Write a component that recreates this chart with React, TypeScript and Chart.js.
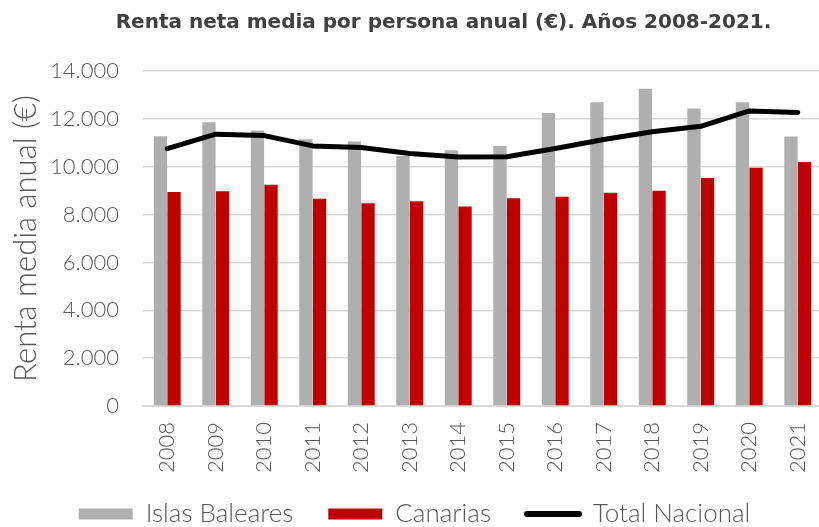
import React, { useEffect, useRef } from "react";
import { Chart, registerables } from "chart.js";

Chart.register(...registerables);

const years = ["2008","2009","2010","2011","2012","2013","2014","2015","2016","2017","2018","2019","2020","2021"];
const baleares = [11270, 11860, 11510, 11150, 11050, 10450, 10690, 10870, 12250, 12690, 13260, 12430, 12690, 11260];
const canarias = [8940, 8970, 9250, 8660, 8470, 8560, 8340, 8680, 8750, 8910, 9000, 9530, 9960, 10200];
const totalNacional = [10760, 11360, 11300, 10870, 10800, 10550, 10410, 10420, 10760, 11140, 11460, 11690, 12330, 12270];

const fmt = (v: number) => {
  const s = Math.round(v).toString();
  return s.replace(/\B(?=(\d{3})+(?!\d))/g, ".");
};

const adjustBoxes = {
  id: "adjustBoxes",
  afterLayout(chart: any) {
    const t = chart.titleBlock;
    if (t) {
      t.left += 29;
      t.right += 29;
    }
    const l = chart.legend;
    if (l) {
      l.top -= 10;
      l.bottom -= 10;
      if (l.adjustHitBoxes) l.adjustHitBoxes();
    }
  },
};

function makeLineSwatch() {
  const c = document.createElement("canvas");
  c.width = 58;
  c.height = 8;
  const ctx = c.getContext("2d");
  if (ctx) {
    ctx.strokeStyle = "#000000";
    ctx.lineWidth = 6;
    ctx.lineCap = "round";
    ctx.beginPath();
    ctx.moveTo(3, 4);
    ctx.lineTo(55, 4);
    ctx.stroke();
  }
  return c;
}

export default function App() {
  const ref = useRef<HTMLCanvasElement | null>(null);
  useEffect(() => {
    if (!ref.current) return;
    const tickColor = "#595959";
    const swatch = makeLineSwatch();
    const chart = new Chart(ref.current, {
      data: {
        labels: years,
        datasets: [
          {
            type: "line",
            label: "Total Nacional",
            data: totalNacional,
            borderColor: "#000000",
            backgroundColor: "#000000",
            borderWidth: 5,
            pointRadius: 0,
            tension: 0,
            borderCapStyle: "round",
            borderJoinStyle: "round",
            pointStyle: swatch,
            order: 0,
          } as any,
          {
            type: "bar",
            label: "Islas Baleares",
            data: baleares,
            backgroundColor: "#AFAFAF",
            borderWidth: 0,
            pointStyle: "rect",
            categoryPercentage: 0.56,
            barPercentage: 0.98,
            order: 1,
          } as any,
          {
            type: "bar",
            label: "Canarias",
            data: canarias,
            backgroundColor: "#C00000",
            borderWidth: 0,
            pointStyle: "rect",
            categoryPercentage: 0.56,
            barPercentage: 0.98,
            order: 1,
          } as any,
        ],
      },
      plugins: [adjustBoxes],
      options: {
        responsive: false,
        animation: false,
        layout: { padding: { left: 7, right: 4, top: 10, bottom: -20 } },
        plugins: {
          title: {
            display: true,
            text: "Renta neta media por persona anual (€). Años 2008-2021.",
            color: "#404040",
            font: { family: "'DejaVu Sans'", size: 20, weight: "bold" },
            padding: { top: 1, bottom: 36 },
          },
          legend: {
            position: "bottom",
            labels: {
              usePointStyle: true,
              pointStyleWidth: 54,
              boxHeight: 11,
              color: tickColor,
              padding: 35,
              font: { family: "Lato", size: 26, weight: 300 },
              sort: (a: any, b: any) => {
                const order = ["Islas Baleares", "Canarias", "Total Nacional"];
                return order.indexOf(a.text) - order.indexOf(b.text);
              },
            },
          },
          tooltip: { enabled: false },
        },
        scales: {
          x: {
            grid: { display: false, drawTicks: false },
            border: { display: true, color: "#D9D9D9", width: 2 },
            ticks: {
              color: tickColor,
              font: { family: "Lato", size: 22, weight: 300 },
              minRotation: 90,
              maxRotation: 90,
              padding: 16,
            },
            afterFit: (s: any) => {
              s.height = 70;
              s.paddingLeft = 0;
              s.paddingRight = 0;
            },
          },
          y: {
            min: 0,
            max: 14000,
            grid: { color: "#D9D9D9", lineWidth: 1.5, drawTicks: false },
            border: { display: false },
            ticks: {
              stepSize: 2000,
              color: tickColor,
              font: { family: "Lato", size: 22, weight: 300 },
              padding: 24,
              callback: (v: any) => fmt(Number(v)),
            },
            title: {
              display: true,
              text: "Renta media anual (€)",
              color: tickColor,
              font: { family: "Lato", size: 31, weight: 300 },
              padding: { top: 0, bottom: 0 },
            },
            afterFit: (s: any) => {
              s.width = 136;
            },
          },
        },
      } as any,
    });
    return () => chart.destroy();
  }, []);
  return (
    <div style={{ position: "fixed", left: 0, top: 0, width: 826, height: 527, background: "#fff" }}>
      <canvas ref={ref} width={826} height={527} />
    </div>
  );
}
